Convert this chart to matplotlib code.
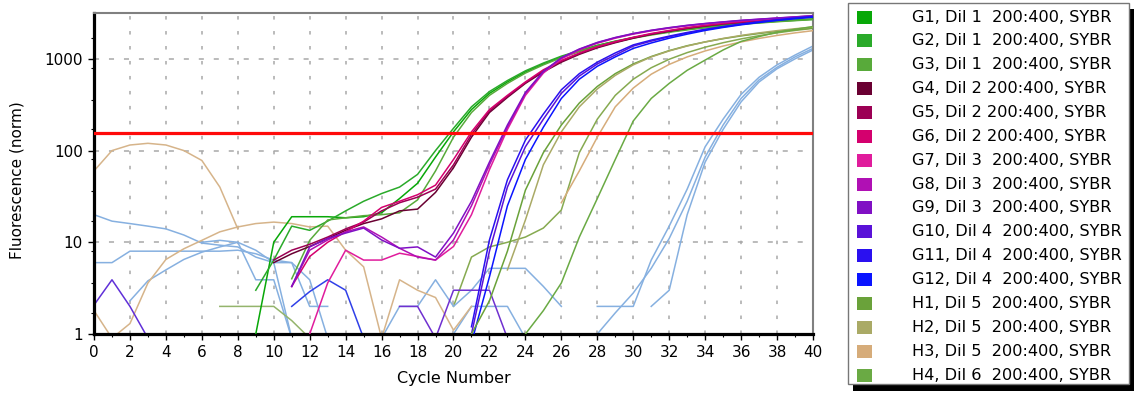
import numpy as np
import matplotlib
matplotlib.use("Agg")
import matplotlib.pyplot as plt
from matplotlib.patches import Rectangle
from matplotlib.ticker import FixedLocator, NullFormatter

cycles = np.arange(41)
threshold = 157

# amplification curves, values from the first drawn cycle onwards
g1_from, g1 = 9, [1, 10, 19, 19, 19, 18.5, 19, 21, 30, 44, 85, 160, 280, 420, 560, 720, 880, 1050, 1220, 1400,
                  1550, 1700, 1850, 1980, 2100, 2220, 2320, 2420, 2500, 2580, 2650, 2720]
g2_from, g2 = 9, [3, 6.4, 15, 13.5, 17, 22, 28, 34, 40, 55, 100, 175, 300, 440, 580, 740, 900, 1070, 1230, 1400,
                  1560, 1710, 1850, 1980, 2100, 2200, 2300, 2400, 2480, 2560, 2630, 2700]
g3_from, g3 = 11, [4, 10.5, 17.5, 18.5, 19.5, 20, 21, 29, 60, 140, 260, 400, 540, 700, 860, 1030, 1200, 1370, 1530,
                   1680, 1820, 1950, 2070, 2180, 2280, 2380, 2460, 2540, 2610, 2680]
g4_from, g4 = 10, [6, 7.5, 9, 11, 13.5, 16, 18, 22, 23, 35, 65, 140, 260, 380, 540, 720, 920, 1120, 1320, 1500,
                   1680, 1850, 2000, 2150, 2280, 2400, 2500, 2600, 2700, 2780, 2850]
g5_from, g5 = 10, [6.4, 8.2, 9.5, 11.4, 14, 16.6, 22, 27, 31, 38, 70, 150, 270, 390, 550, 740, 940, 1140, 1340, 1520,
                   1700, 1870, 2020, 2170, 2300, 2420, 2520, 2620, 2720, 2800, 2880]
g6_from, g6 = 11, [3.3, 7, 10, 13, 17, 24, 28, 33, 42, 80, 160, 280, 400, 560, 760, 960, 1160, 1360, 1540, 1720,
                   1890, 2040, 2190, 2320, 2440, 2540, 2640, 2740, 2820, 2900]
g7_from, g7 = 12, [1, 3.6, 8.2, 6.4, 6.4, 7.6, 7, 6.4, 9, 20, 62, 170, 400, 700, 1000, 1250, 1480, 1680, 1860, 2020,
                   2160, 2290, 2400, 2500, 2600, 2680, 2760, 2840, 2920]
g8_from, g8 = 11, [3.3, 8.2, 10.6, 13, 14.7, 11.4, 8.6, 6.9, 6.4, 10.6, 25, 70, 180, 420, 720, 1020, 1270, 1500, 1700,
                   1880, 2040, 2180, 2310, 2420, 2520, 2620, 2700, 2780, 2860, 2950]
g9_from, g9 = 11, [3.3, 8.9, 11, 12.6, 14.3, 10.6, 8.6, 8.9, 6.9, 12.6, 28, 75, 190, 430, 730, 1030, 1280, 1510, 1710,
                   1890, 2050, 2190, 2320, 2430, 2530, 2630, 2710, 2790, 2870, 2960]
g10_from, g10 = 21, [1, 8, 40, 110, 220, 420, 650, 880, 1100, 1380, 1560, 1740, 1910, 2080, 2230, 2380, 2520, 2650,
                     2770, 2880]
g11_from, g11 = 21, [1.2, 10.6, 48, 130, 250, 460, 690, 920, 1160, 1420, 1600, 1770, 1940, 2100, 2250, 2400, 2540,
                     2670, 2790, 2900]
g12_from, g12 = 21, [0.8, 4.2, 25, 80, 180, 370, 600, 830, 1050, 1300, 1490, 1680, 1860, 2040, 2200, 2350, 2490,
                     2620, 2740, 2850]
h1_from, h1 = 21, [1, 2.3, 8, 37, 95, 190, 330, 500, 690, 880, 1060, 1230, 1390, 1530, 1660, 1780, 1890, 1990, 2080,
                   2170]
h2_from, h2 = 23, [5, 17.5, 70, 160, 300, 470, 660, 860, 1050, 1220, 1380, 1530, 1670, 1800, 1920, 2030, 2130, 2220]
h3_from, h3 = 26, [27, 60, 140, 300, 480, 680, 870, 1050, 1220, 1380, 1530, 1670, 1800, 1920, 2030]
h4_from, h4 = 24, [1, 1.8, 3.6, 11.4, 30, 80, 210, 370, 540, 750, 970, 1250, 1550, 1750, 1950, 2100, 2250]

# wells not listed in the legend
h5_from, h5 = 20, [2, 6.9, 8.9, 10, 11.4, 14.3, 22.5, 95, 220, 400, 600, 800, 990, 1170, 1340, 1500, 1650, 1790,
                   1920, 2040, 2150]
lb1_from, lb1 = 28, [1, 1.7, 2.8, 5.2, 11, 28, 85, 190, 370, 590, 810, 1050, 1300]
lb2_from, lb2 = 28, [2, 2, 2, 6.4, 15, 38, 110, 220, 410, 630, 860, 1100, 1380]
lb3_from, lb3 = 31, [2, 3, 20, 75, 170, 340, 560, 780, 1000, 1250]

# baseline noise pieces
lb_a_from, lb_a = 0, [20, 17, 16, 15, 14, 12, 9.8, 9.3, 8.9, 6.9, 6, 0.9]
lb_b_from, lb_b = 0, [6, 6, 8, 8, 8, 8, 8, 8, 8.2, 7.5, 6.4, 6, 2, 2]
lb_c_from, lb_c = 2, [2.3, 3.8, 5, 6.5, 7.8, 8.9, 10, 8.2, 6, 6, 3.9, 0.9]
lb_d_from, lb_d = 6, [10, 10.5, 10, 3.9, 3.9, 0.9]
lb_e_from, lb_e = 16, [0.9, 2, 2, 3.9, 2, 3, 5.2, 5.2, 5.2, 3.3, 2]
lb_f_from, lb_f = 20, [1, 2, 2, 2, 0.9]
tan_a_from, tan_a = 0, [60, 100, 115, 120, 115, 100, 78, 40, 14]
tan_b_from, tan_b = 0, [1.8, 0.9, 1.3, 3.6, 6.5, 8.5, 10.5, 13, 14.7, 16, 16.6, 16, 14.7, 15, 8.2, 5.4, 0.9, 3.9,
                        3, 2.5, 1.1, 2]
ol_a_from, ol_a = 7, [2, 2, 2, 2, 1.4, 0.9]
pu_a_from, pu_a = 0, [2.07, 3.9, 2, 0.9]
pu_b_from, pu_b = 17, [2, 2, 0.9, 3, 3, 3, 0.9]
bl_a_from, bl_a = 11, [2, 2.9, 3.9, 3, 0.9]

labels = ["G1, Dil 1  200:400, SYBR", "G2, Dil 1  200:400, SYBR", "G3, Dil 1  200:400, SYBR",
          "G4, Dil 2 200:400, SYBR", "G5, Dil 2 200:400, SYBR", "G6, Dil 2 200:400, SYBR",
          "G7, Dil 3  200:400, SYBR", "G8, Dil 3  200:400, SYBR", "G9, Dil 3  200:400, SYBR",
          "G10, Dil 4  200:400, SYBR", "G11, Dil 4  200:400, SYBR", "G12, Dil 4  200:400, SYBR",
          "H1, Dil 5  200:400, SYBR", "H2, Dil 5  200:400, SYBR", "H3, Dil 5  200:400, SYBR",
          "H4, Dil 6  200:400, SYBR"]
colors = ["#08a808", "#2aaa2a", "#58aa3a", "#6a0032", "#9c0054", "#d4006e", "#e01c9c", "#b010b4",
          "#8010c4", "#5a12d8", "#2a10f0", "#0a14ff", "#6aa23a", "#aaaa66", "#d6ac7a", "#6aaa44"]
light_blue = "#86b0e0"

wells = [(g1_from, g1), (g2_from, g2), (g3_from, g3), (g4_from, g4), (g5_from, g5), (g6_from, g6),
         (g7_from, g7), (g8_from, g8), (g9_from, g9), (g10_from, g10), (g11_from, g11), (g12_from, g12),
         (h1_from, h1), (h2_from, h2), (h3_from, h3), (h4_from, h4)]
extras = [(h5_from, h5, "#86aa50"), (lb1_from, lb1, light_blue), (lb2_from, lb2, light_blue),
          (lb3_from, lb3, light_blue),
          (lb_a_from, lb_a, light_blue), (lb_b_from, lb_b, light_blue), (lb_c_from, lb_c, light_blue),
          (lb_d_from, lb_d, light_blue), (lb_e_from, lb_e, light_blue), (lb_f_from, lb_f, light_blue),
          (tan_a_from, tan_a, "#d6b48a"), (tan_b_from, tan_b, "#d6b48a"), (ol_a_from, ol_a, "#94b46c"),
          (pu_a_from, pu_a, "#6030d8"), (pu_b_from, pu_b, "#7030d0"), (bl_a_from, bl_a, "#3040e8")]


def pad(start, vals):
    out = np.full(len(cycles), np.nan)
    out[start:start + len(vals)] = vals
    return out


fig = plt.figure(figsize=(11.35, 3.94), dpi=100)
ax = fig.add_axes([94 / 1135, 60 / 394, 719 / 1135, 321 / 394])

# grid: short dashes on the cycle lines, longer ones on the decades
for c in range(2, 40, 2):
    ax.axvline(c, color="#a8a8a8", lw=1.1, linestyle=(0, (2.3, 7.5)), zorder=0)
for d in [10, 100, 1000]:
    ax.axhline(d, color="#a8a8a8", lw=1.1, linestyle=(0, (3.3, 6.5)), zorder=0)

for start, vals, col in extras:
    ax.plot(cycles, pad(start, vals), color=col, lw=1.1, zorder=2)
for (start, vals), col in zip(wells, colors):
    ax.plot(cycles, pad(start, vals), color=col, lw=1.1, zorder=3)

ax.axhline(threshold, color="#ff0a0a", lw=2.3, zorder=5)

ax.set_yscale("log")
ax.set_xlim(0, 40)
ax.set_ylim(1, 10 ** 3.5)
ax.set_xticks(range(0, 41, 2))
ax.set_xticks(range(0, 41), minor=True)
ax.set_yticks([1, 10, 100, 1000])
ax.set_yticklabels(["1", "10", "100", "1000"])
ax.yaxis.set_minor_locator(FixedLocator([1.7, 3.6, 8, 17, 36, 80, 170, 360, 800, 1700]))
ax.yaxis.set_minor_formatter(NullFormatter())
ax.tick_params(which="major", length=4, width=1, labelsize=11, pad=4)
ax.tick_params(which="minor", length=2.5, width=0.8)

for side in ["left", "bottom"]:
    ax.spines[side].set_linewidth(2.3)
    ax.spines[side].set_color("black")
for side in ["top", "right"]:
    ax.spines[side].set_linewidth(1.5)
    ax.spines[side].set_color("#808080")

ax.set_xlabel("Cycle Number", fontsize=11.5)
ax.set_ylabel("Fluorescence (norm)", fontsize=11)
ax.xaxis.set_label_coords(0.5, -0.115)
ax.yaxis.set_label_coords(-0.097, 0.478)

# legend panel with a hard drop shadow
lax = fig.add_axes([0, 0, 1, 1])
lax.set_xlim(0, 1135)
lax.set_ylim(394, 0)
lax.axis("off")
lax.add_patch(Rectangle((853, 9), 281, 382, fc="black", ec="none"))
lax.add_patch(Rectangle((848, 3), 281, 381, fc="white", ec="#777777", lw=1))
for i, (lab, col) in enumerate(zip(labels, colors)):
    y = 17 + i * 23.87
    lax.add_patch(Rectangle((857, y - 6.5), 15, 13, fc=col, ec="none"))
    lax.text(912, y, lab, va="center", ha="left", fontsize=11.6)

fig.savefig("out.png", dpi=100)
